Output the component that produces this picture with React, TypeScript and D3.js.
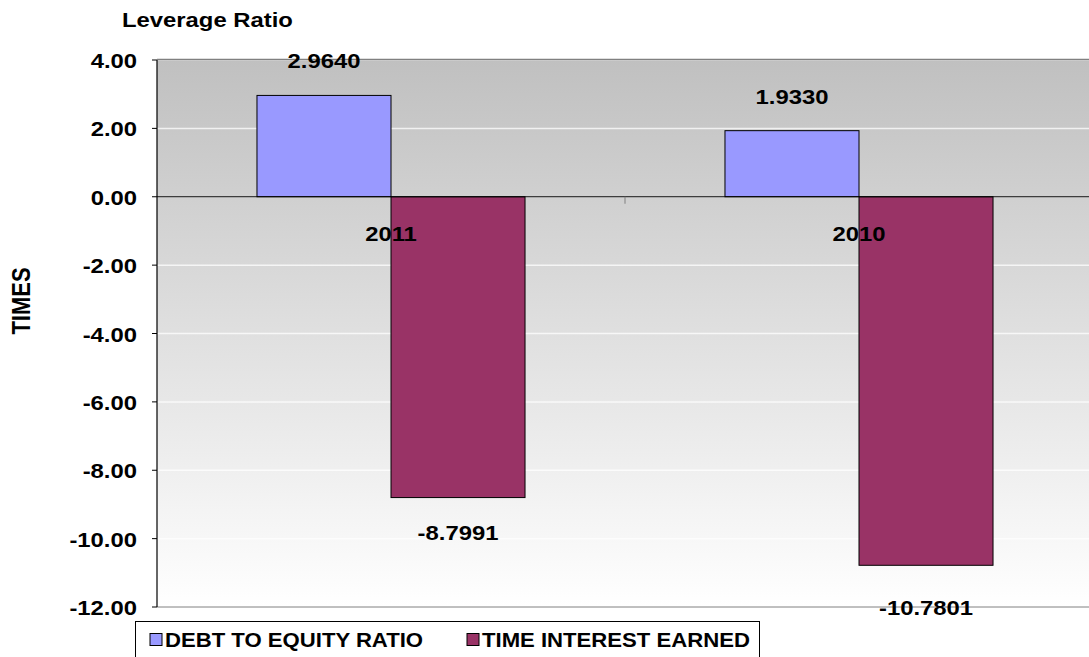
import React from "react";
import * as d3 from "d3";

// values
const categories = ["2011", "2010"];
const seriesNames = ["DEBT TO EQUITY RATIO", "TIME INTEREST EARNED"];
const debtToEquity = [2.964, 1.933];
const timeInterestEarned = [-8.7991, -10.7801];
const yTicks = [4, 2, 0, -2, -4, -6, -8, -10, -12];
const seriesColors = ["#9999FF", "#993366"];

const width = 1089;
const height = 657;
const left = 157;
const top = 60;
const bottom = 607;
const plotRight = 1093; // plot runs a little past the window edge
const SX = 1.135; // the reference text looks stretched horizontally
const font = "Liberation Sans, Arial, Helvetica, sans-serif";

const y = d3.scaleLinear().domain([-12, 4]).range([bottom, top]);
const x0 = d3.scaleBand().domain(categories).range([left, plotRight]);
const x1 = d3
  .scaleBand()
  .domain(seriesNames)
  .range([0, x0.bandwidth()])
  .paddingInner(0)
  .paddingOuter(0.746);

// excel style: plain hyphen for negatives
const fmt = (v: number) => d3.format(".4f")(v).replace("\u2212", "-");
const tickFmt = (v: number) => d3.format(".2f")(v).replace("\u2212", "-");

const rows = categories.map((c, i) => ({
  cat: c,
  values: [debtToEquity[i], timeInterestEarned[i]],
}));

const SText = ({ x, y, anchor = "middle", size = 21, children }: any) => (
  <text
    transform={`translate(${x},${y}) scale(${SX},1)`}
    textAnchor={anchor}
    fontSize={size}
    fontWeight="bold"
    fontFamily={font}
    fill="#000"
  >
    {children}
  </text>
);

const App = () => {
  const zeroY = y(0);
  return (
    <svg
      width={width}
      height={height}
      style={{ position: "absolute", left: 0, top: 0, background: "#fff" }}
    >
      <defs>
        <linearGradient id="bg" x1="0" y1="0" x2="0" y2="1">
          <stop offset="0%" stopColor="#c0c0c0" />
          <stop offset="100%" stopColor="#ffffff" />
        </linearGradient>
      </defs>

      {/* plot area */}
      <rect x={left} y={top} width={plotRight - left} height={bottom - top} fill="url(#bg)" />
      {yTicks.map((t) => (
        <line
          key={"g" + t}
          x1={left}
          x2={plotRight}
          y1={y(t)}
          y2={y(t)}
          stroke="#ffffff"
          strokeOpacity={0.75}
          strokeWidth={1.5}
        />
      ))}
      <line x1={left} x2={plotRight} y1={top - 0.5} y2={top - 0.5} stroke="#808080" strokeWidth={1.5} />
      <line x1={left} x2={plotRight} y1={bottom} y2={bottom} stroke="#808080" strokeWidth={1} />

      {/* bars */}
      {rows.map((r) =>
        r.values.map((v, j) => {
          const bx = (x0(r.cat) as number) + (x1(seriesNames[j]) as number);
          return (
            <rect
              key={r.cat + j}
              x={bx}
              y={Math.min(y(v), zeroY)}
              width={x1.bandwidth()}
              height={Math.abs(y(v) - zeroY)}
              fill={seriesColors[j]}
              stroke="#000"
              strokeWidth={1}
            />
          );
        })
      )}

      {/* zero line, axis, ticks */}
      <line x1={left} x2={plotRight} y1={zeroY} y2={zeroY} stroke="#000" strokeWidth={1.2} />
      <line x1={left} x2={left} y1={top} y2={bottom} stroke="#000" strokeWidth={1.2} />
      {yTicks.map((t) => (
        <g key={"t" + t}>
          <line x1={left - 5} x2={left} y1={y(t)} y2={y(t)} stroke="#000" />
          <SText x={137} y={y(t) + 8} anchor="end">
            {tickFmt(t)}
          </SText>
        </g>
      ))}
      {categories.slice(1).map((c) => (
        <line
          key={"ct" + c}
          x1={x0(c) as number}
          x2={x0(c) as number}
          y1={zeroY}
          y2={zeroY + 7}
          stroke="#808080"
        />
      ))}
      {categories.map((c) => (
        <SText key={"cl" + c} x={(x0(c) as number) + x0.bandwidth() / 2} y={zeroY + 44}>
          {c}
        </SText>
      ))}

      {/* data labels */}
      {rows.map((r) =>
        r.values.map((v, j) => {
          const cx = (x0(r.cat) as number) + (x1(seriesNames[j]) as number) + x1.bandwidth() / 2;
          let ly = v >= 0 ? y(v) - 27 : y(v) + 42;
          if (ly > bottom - 4) ly = bottom + 8; // excel nudges the lowest label onto the border
          return (
            <SText key={"dl" + r.cat + j} x={cx} y={ly}>
              {fmt(v)}
            </SText>
          );
        })
      )}

      {/* titles */}
      <SText x={122} y={27} anchor="start" size={21}>
        Leverage Ratio
      </SText>
      <text
        transform={`translate(30,301) scale(${SX},1) rotate(-90)`}
        textAnchor="middle"
        fontSize={22}
        fontWeight="bold"
        fontFamily={font}
      >
        TIMES
      </text>

      {/* legend */}
      <rect x={135.5} y={621.5} width={624} height={60} fill="#fff" stroke="#000" strokeWidth={1} />
      {seriesNames.map((s, j) => {
        const lx = j === 0 ? 150 : 467;
        return (
          <g key={"lg" + s}>
            <rect x={lx} y={633.5} width={12} height={12} fill={seriesColors[j]} stroke="#000" />
            <SText x={lx + 15} y={647} anchor="start" size={19.5}>
              {s}
            </SText>
          </g>
        );
      })}
    </svg>
  );
};

export default App;
